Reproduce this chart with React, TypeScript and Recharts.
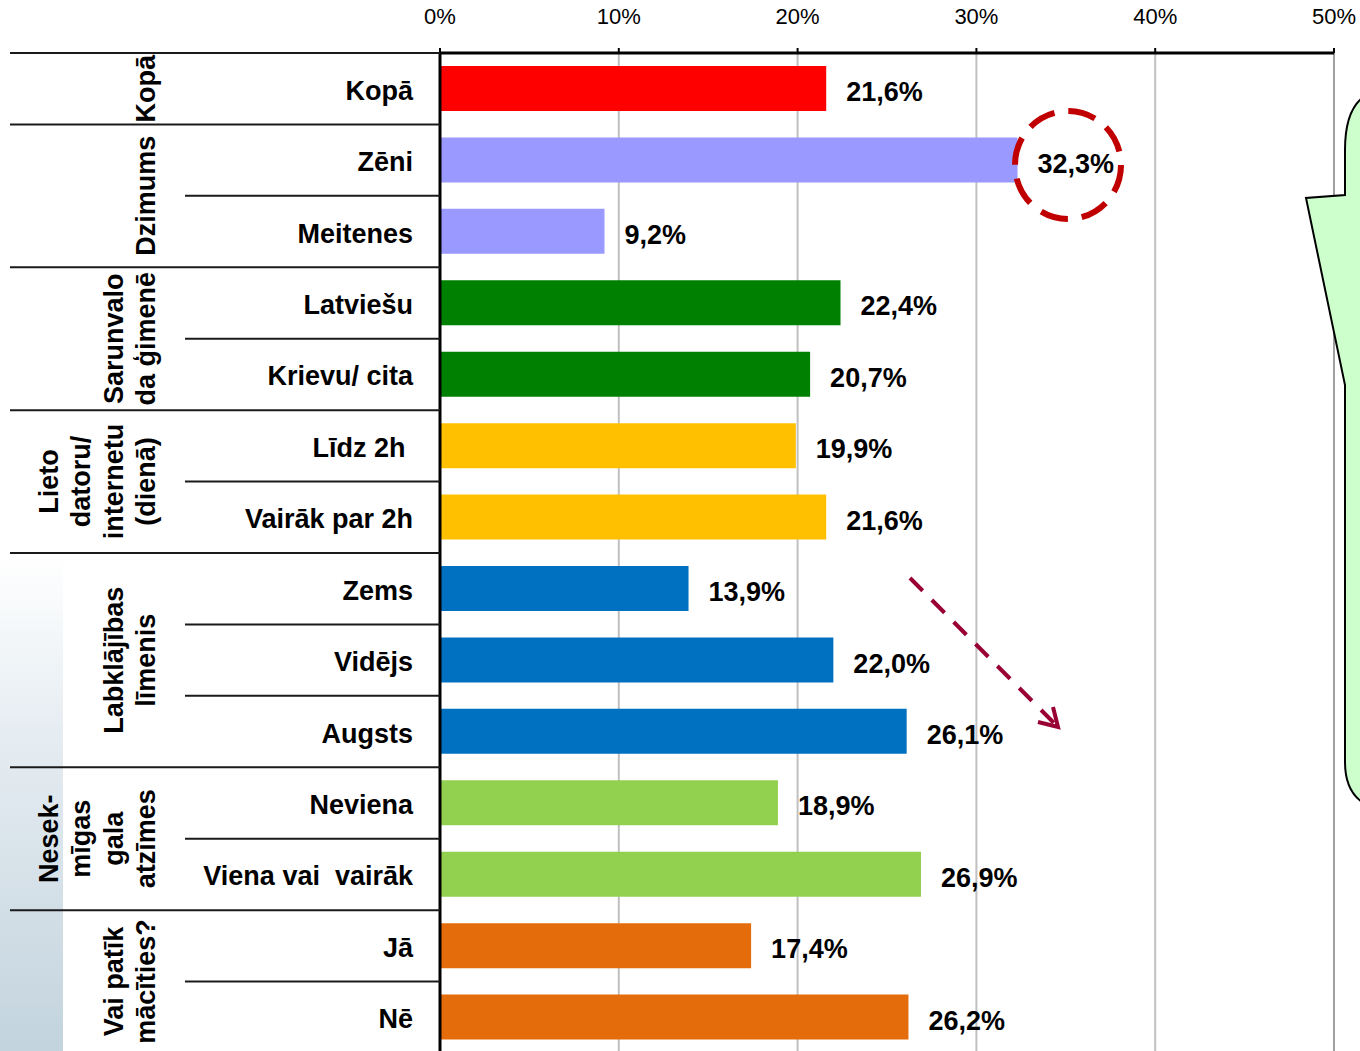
import { Bar, BarChart, CartesianGrid, Cell, LabelList, ReferenceLine, XAxis, YAxis } from "recharts";

const categories = [
  "Kopā",
  "Zēni",
  "Meitenes",
  "Latviešu",
  "Krievu/ cita",
  "Līdz 2h\u00a0",
  "Vairāk par 2h",
  "Zems",
  "Vidējs",
  "Augsts",
  "Neviena",
  "Viena vai\u00a0 vairāk",
  "Jā",
  "Nē"
];

const values = [21.6, 32.3, 9.2, 22.4, 20.7, 19.9, 21.6, 13.9, 22.0, 26.1, 18.9, 26.9, 17.4, 26.2];

const groupLabels = [
  ["Kopā"],
  ["Dzimums"],
  ["Sarunvalo", "da ģimenē"],
  ["Lieto", "datoru/", "internetu", "(dienā)"],
  ["Labklājības", "līmenis"],
  ["Nesek-", "mīgas", "gala", "atzīmes"],
  ["Vai patīk", "mācīties?"]
];

const groupSizes = [1, 2, 2, 2, 3, 2, 2];

const groupColors = ["#FF0000", "#9999FF", "#008000", "#FFC000", "#0070C0", "#92D050", "#E46C0A"];

const xTicks = [0, 10, 20, 30, 40, 50];

const FONT = '"Liberation Sans", Arial, Helvetica, sans-serif';
const CHART_W = 1360;
const CHART_H = 1060;
const AXIS_H = 53;
const PLOT_LEFT = 440;
const PLOT_H = 1000;
const ROW_H = PLOT_H / categories.length;

// which group each row belongs to, and the first row of each group
const groupStarts: number[] = [];
const rowGroup: number[] = [];
groupSizes.reduce((start, size, g) => {
  groupStarts.push(start);
  for (let k = 0; k < size; k++) rowGroup.push(g);
  return start + size;
}, 0);

const data = categories.map((name, i) => ({ name, value: values[i], color: groupColors[rowGroup[i]] }));

const formatPct = (v: unknown) => `${Number(v).toFixed(1).replace(".", ",")}%`;

function CategoryTick(props: any) {
  const { y, payload } = props;
  const i = props.index ?? payload.index;
  const top = y - ROW_H / 2;
  const g = rowGroup[i];
  const isStart = groupStarts[g] === i;
  const lines = groupLabels[g];
  const cy = top + (groupSizes[g] * ROW_H) / 2;

  return (
    <g>
      <line x1={isStart ? 10 : 185} x2={PLOT_LEFT} y1={top} y2={top} stroke="#1a1a1a" strokeWidth={2} />
      <text x={PLOT_LEFT - 27} y={y + 11} textAnchor="end" fontFamily={FONT} fontSize={27} fontWeight={700} fill="#000">
        {payload.value}
      </text>
      {isStart &&
        lines.map((line, k) => (
          <text
            key={line}
            transform={`translate(${155 - (lines.length - 1 - k) * 32.3}, ${cy}) rotate(-90)`}
            textAnchor="middle"
            fontFamily={FONT}
            fontSize={27}
            fontWeight={700}
            fill="#000"
          >
            {line}
          </text>
        ))}
    </g>
  );
}

export default function App() {
  return (
    <div style={{ position: "absolute", left: 0, top: 0, width: CHART_W, height: 1051, overflow: "hidden", background: "#fff" }}>
      <div
        style={{
          position: "absolute",
          left: 0,
          top: 555,
          width: 63,
          height: 500,
          background: "linear-gradient(to bottom, #ffffff 0%, #e6edf2 35%, #d3dfe7 70%, #c2d3dd 100%)"
        }}
      />
      <div style={{ position: "relative" }}>
        <BarChart
          width={CHART_W}
          height={CHART_H}
          data={data}
          layout="vertical"
          margin={{ top: 0, right: 26, bottom: 7, left: 0 }}
          barSize={45}
          style={{ fontFamily: FONT }}
        >
          <CartesianGrid horizontal={false} stroke="#C0C0C0" strokeWidth={2} />
          <XAxis
            type="number"
            orientation="top"
            domain={[0, 50]}
            ticks={xTicks}
            height={AXIS_H}
            tickFormatter={(v) => `${v}%`}
            tick={{ fill: "#000", fontSize: 22, fontFamily: FONT }}
            tickSize={5}
            tickMargin={24}
            axisLine={{ stroke: "#000", strokeWidth: 3 }}
            tickLine={{ stroke: "#000", strokeWidth: 2 }}
          />
          <YAxis
            type="category"
            dataKey="name"
            width={PLOT_LEFT}
            interval={0}
            tick={(p: any) => <CategoryTick {...p} />}
            tickLine={false}
            axisLine={{ stroke: "#000", strokeWidth: 3 }}
          />
          <ReferenceLine x={50} stroke="#A0A0A0" strokeWidth={2} />
          <Bar dataKey="value" isAnimationActive={false}>
            {data.map((d) => (
              <Cell key={d.name} fill={d.color} />
            ))}
            <LabelList
              dataKey="value"
              position="right"
              offset={20}
              formatter={formatPct}
              style={{ fill: "#000", fontSize: 27, fontWeight: 700, fontFamily: FONT }}
              dy={3}
            />
          </Bar>
        </BarChart>
      </div>
      <svg width={CHART_W} height={1051} style={{ position: "absolute", left: 0, top: 0, pointerEvents: "none" }}>
        <ellipse cx={1068} cy={165} rx={53} ry={54} fill="none" stroke="#C00000" strokeWidth={6} strokeDasharray="28 14" />
        <line x1={910} y1={578} x2={1056} y2={725} stroke="#990033" strokeWidth={4} strokeDasharray="18 13" />
        <polyline points="1038,722 1058,727 1053,707" fill="none" stroke="#990033" strokeWidth={4} />
        <path
          d="M 1362 98 Q 1345 112 1345 150 L 1345 195 L 1306 198 L 1345 385 L 1345 762 Q 1345 790 1362 802 L 1400 802 L 1400 98 Z"
          fill="#CCFFCC"
          stroke="#000"
          strokeWidth={2}
        />
      </svg>
    </div>
  );
}
